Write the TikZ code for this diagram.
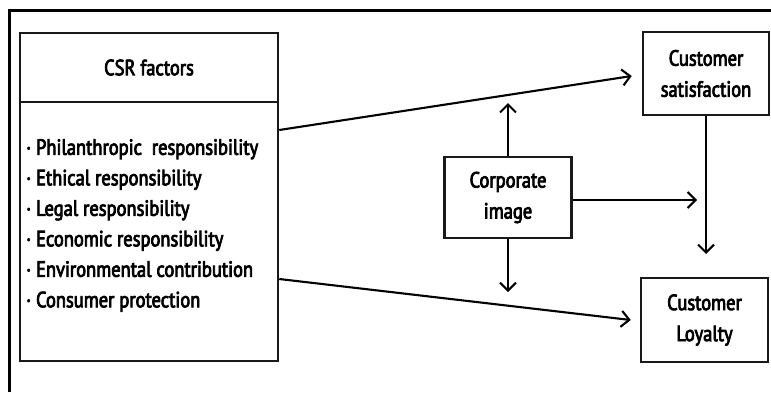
\documentclass[tikz,border=0pt]{standalone}
\usepackage{fontspec}
\setmainfont{PT Sans}[FakeBold=3.5,FakeStretch=0.84]
\usetikzlibrary{arrows.meta,calc}
\begin{document}
\begin{tikzpicture}[x=1pt,y=-1pt,
  box/.style={draw=black!90, line width=2.5pt, fill=white, inner sep=0pt, align=center,
     font=\fontsize{22}{31}\selectfont},
  txt/.style={inner sep=0pt, align=left, font=\fontsize{22}{30.5}\selectfont},
  arr/.style={line width=2.1pt, -{Straight Barb[length=8pt,width=16pt,line width=2.1pt]}},
  frame/.style={line width=3pt}]
\useasboundingbox (0,0) rectangle (771,392);
\draw[frame] (9,392) -- (9,10) -- (771,10);
% CSR block
\node[box, minimum width=258, minimum height=69] (title) at (149,67.5) {CSR factors};
\node[box, minimum width=258, minimum height=259] (list) at (149,231.5) {};
\node[txt, anchor=north west] (items) at (26,139) {%
· Philanthropic\ \ responsibility\\
· Ethical responsibility\\
· Legal responsibility\\
· Economic responsibility\\
· Environmental contribution\\
· Consumer protection};
% other boxes
\node[box, minimum width=127, minimum height=81] (corp) at (508,197.5) {Corporate\\image};
\node[box, minimum width=126, minimum height=83] (sat) at (706,73.5) {Customer\\satisfaction};
\node[box, minimum width=127, minimum height=84] (loy) at (704.5,320) {Customer\\Loyalty};
% connector end points
\coordinate (a1) at (list.east |- 0,130);
\coordinate (a2) at ([xshift=-10pt]sat.west |- 0,76);
\coordinate (b1) at (list.east |- 0,279);
\coordinate (b2) at ([xshift=-9pt]loy.west |- 0,320);
\coordinate (cu) at (corp.north |- 0,103);
\coordinate (cd) at (corp.south |- 0,292);
\coordinate (cr) at (697,200);
\coordinate (sd) at (sat.south |- 0,254);
\draw[arr] (a1) -- (a2);
\draw[arr] (b1) -- (b2);
\draw[arr] (corp.north) -- (cu);
\draw[arr] (corp.south) -- (cd);
\draw[arr] (corp.east |- cr) -- (cr);
\draw[arr] (sat.south) -- (sd);
\end{tikzpicture}
\end{document}
